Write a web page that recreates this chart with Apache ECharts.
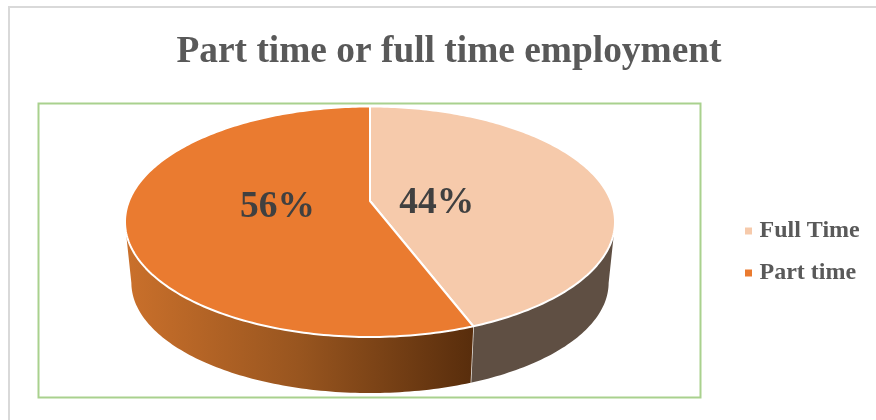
<!DOCTYPE html>
<html>
<head>
<meta charset="utf-8">
<style>html,body{margin:0;padding:0;background:#fff}#c{width:876px;height:420px}</style>
<script src="https://cdn.jsdelivr.net/npm/echarts@6/dist/echarts.min.js"></script>
</head>
<body>
<div id="c"></div>
<script>
const titleText = 'Part time or full time employment';
const categories = ['Full Time', 'Part time'];
const values = [44.2, 55.8];
const labels = ['44%', '56%'];

const SERIF = '"Liberation Serif", "Times New Roman", serif';
const topColors = ['#F6CAAB', '#EA7B30'];
const total = values.reduce((a, b) => a + b, 0);

// Tilted-disc projection of the pie (the near side is drawn larger than the far side)
const G = { cx: 370, cy: 201, A: 241, a: -75.33, k: 0.18,
            ellipseCy: 222, baseCy: 283, baseSx: 0.974, baseSy: 0.957,
            wallTop: [105, 255], wallBase: [100.5, 259.5] };
const rad = d => d * Math.PI / 180;
function topPt(deg, r) {
  const u = r * Math.sin(rad(deg)), v = r * Math.cos(rad(deg));
  const w = 1 + G.k * v;
  return [G.cx + G.A * u / w, (G.a * v + G.cy) / w];
}
function basePt(deg) {
  const p = topPt(deg, 1);
  return [G.cx + (p[0] - G.cx) * G.baseSx, G.baseCy + (p[1] - G.ellipseCy) * G.baseSy];
}
function arc(fn, from, to) {
  const pts = [], n = Math.max(2, Math.ceil(Math.abs(to - from)));
  for (let i = 0; i <= n; i++) pts.push(fn(from + (to - from) * i / n));
  return pts;
}
const labelRadius = [0.28, 0.39];
const labelNudge = [[1, 8], [1, -2]];
const wallFills = [
  '#5F4F43',
  new echarts.graphic.LinearGradient(0, 0, 1, 0, [
    { offset: 0, color: '#CA702B' },
    { offset: 0.5, color: '#98551F' },
    { offset: 1, color: '#582D0C' }
  ])
];

function renderSlice(index) {
  return function (params, api) {
    const value = api.value(0);
    const before = values.slice(0, index).reduce((a, b) => a + b, 0);
    const start = before / total * 360;
    const end = start + value / total * 360;
    const kids = [];
    const t0 = Math.max(start, G.wallTop[0]), t1 = Math.min(end, G.wallTop[1]);
    const b0 = Math.max(start, G.wallBase[0]), b1 = Math.min(end, G.wallBase[1]);
    const wall = arc(d => topPt(d, 1), t0, t1).concat(arc(basePt, b1, b0));
    kids.push({ type: 'polygon', shape: { points: wall }, style: { fill: wallFills[index] } });
    const face = [topPt(0, 0)].concat(arc(d => topPt(d, 1), start, end));
    kids.push({ type: 'polygon', shape: { points: face },
      style: { fill: topColors[index], stroke: '#FFFFFF', lineWidth: 2, lineJoin: 'round' } });
    if (end < 360) {
      const p = topPt(end, 1), q = basePt(end);
      kids.push({ type: 'line', shape: { x1: p[0], y1: p[1], x2: q[0], y2: q[1] },
        style: { stroke: '#E9E4DF', lineWidth: 1.5 } });
    }
    const mid = (start + end) / 2;
    const lp = topPt(mid, labelRadius[index]);
    kids.push({ type: 'text', z2: 10, x: lp[0] + labelNudge[index][0], y: lp[1] + labelNudge[index][1],
      style: { text: labels[index], font: 'bold 37.5px ' + SERIF, fill: '#404040', align: 'center', verticalAlign: 'middle' } });
    return { type: 'group', children: kids };
  };
}

const chart = echarts.init(document.getElementById('c'), null, { renderer: 'canvas' });
chart.setOption({
  animation: false,
  backgroundColor: '#FFFFFF',
  title: { text: titleText, left: 444, top: 29, textAlign: 'center',
    textStyle: { fontFamily: SERIF, fontWeight: 'bold', fontSize: 37.4, color: '#595959' } },
  legend: { orient: 'vertical', left: 740, top: 214, icon: 'rect', itemWidth: 7, itemHeight: 7, itemGap: 18,
    data: categories, textStyle: { fontFamily: SERIF, fontWeight: 'bold', fontSize: 24, color: '#595959', padding: [0, 0, 0, 2.5] } },
  graphic: [
    { type: 'polyline', silent: true, shape: { points: [[9, 420], [9, 7], [876, 7]] },
      style: { stroke: '#D9D9D9', lineWidth: 2, fill: null } },
    { type: 'rect', silent: true, shape: { x: 38.5, y: 103.5, width: 662, height: 294 },
      style: { stroke: '#A9D18E', lineWidth: 2, fill: null } }
  ],
  series: categories.map((name, i) => ({
    name, type: 'custom', coordinateSystem: 'none', z: 3,
    itemStyle: { color: topColors[i] },
    renderItem: renderSlice(i),
    data: [[values[i]]]
  }))
});
</script>
</body>
</html>
